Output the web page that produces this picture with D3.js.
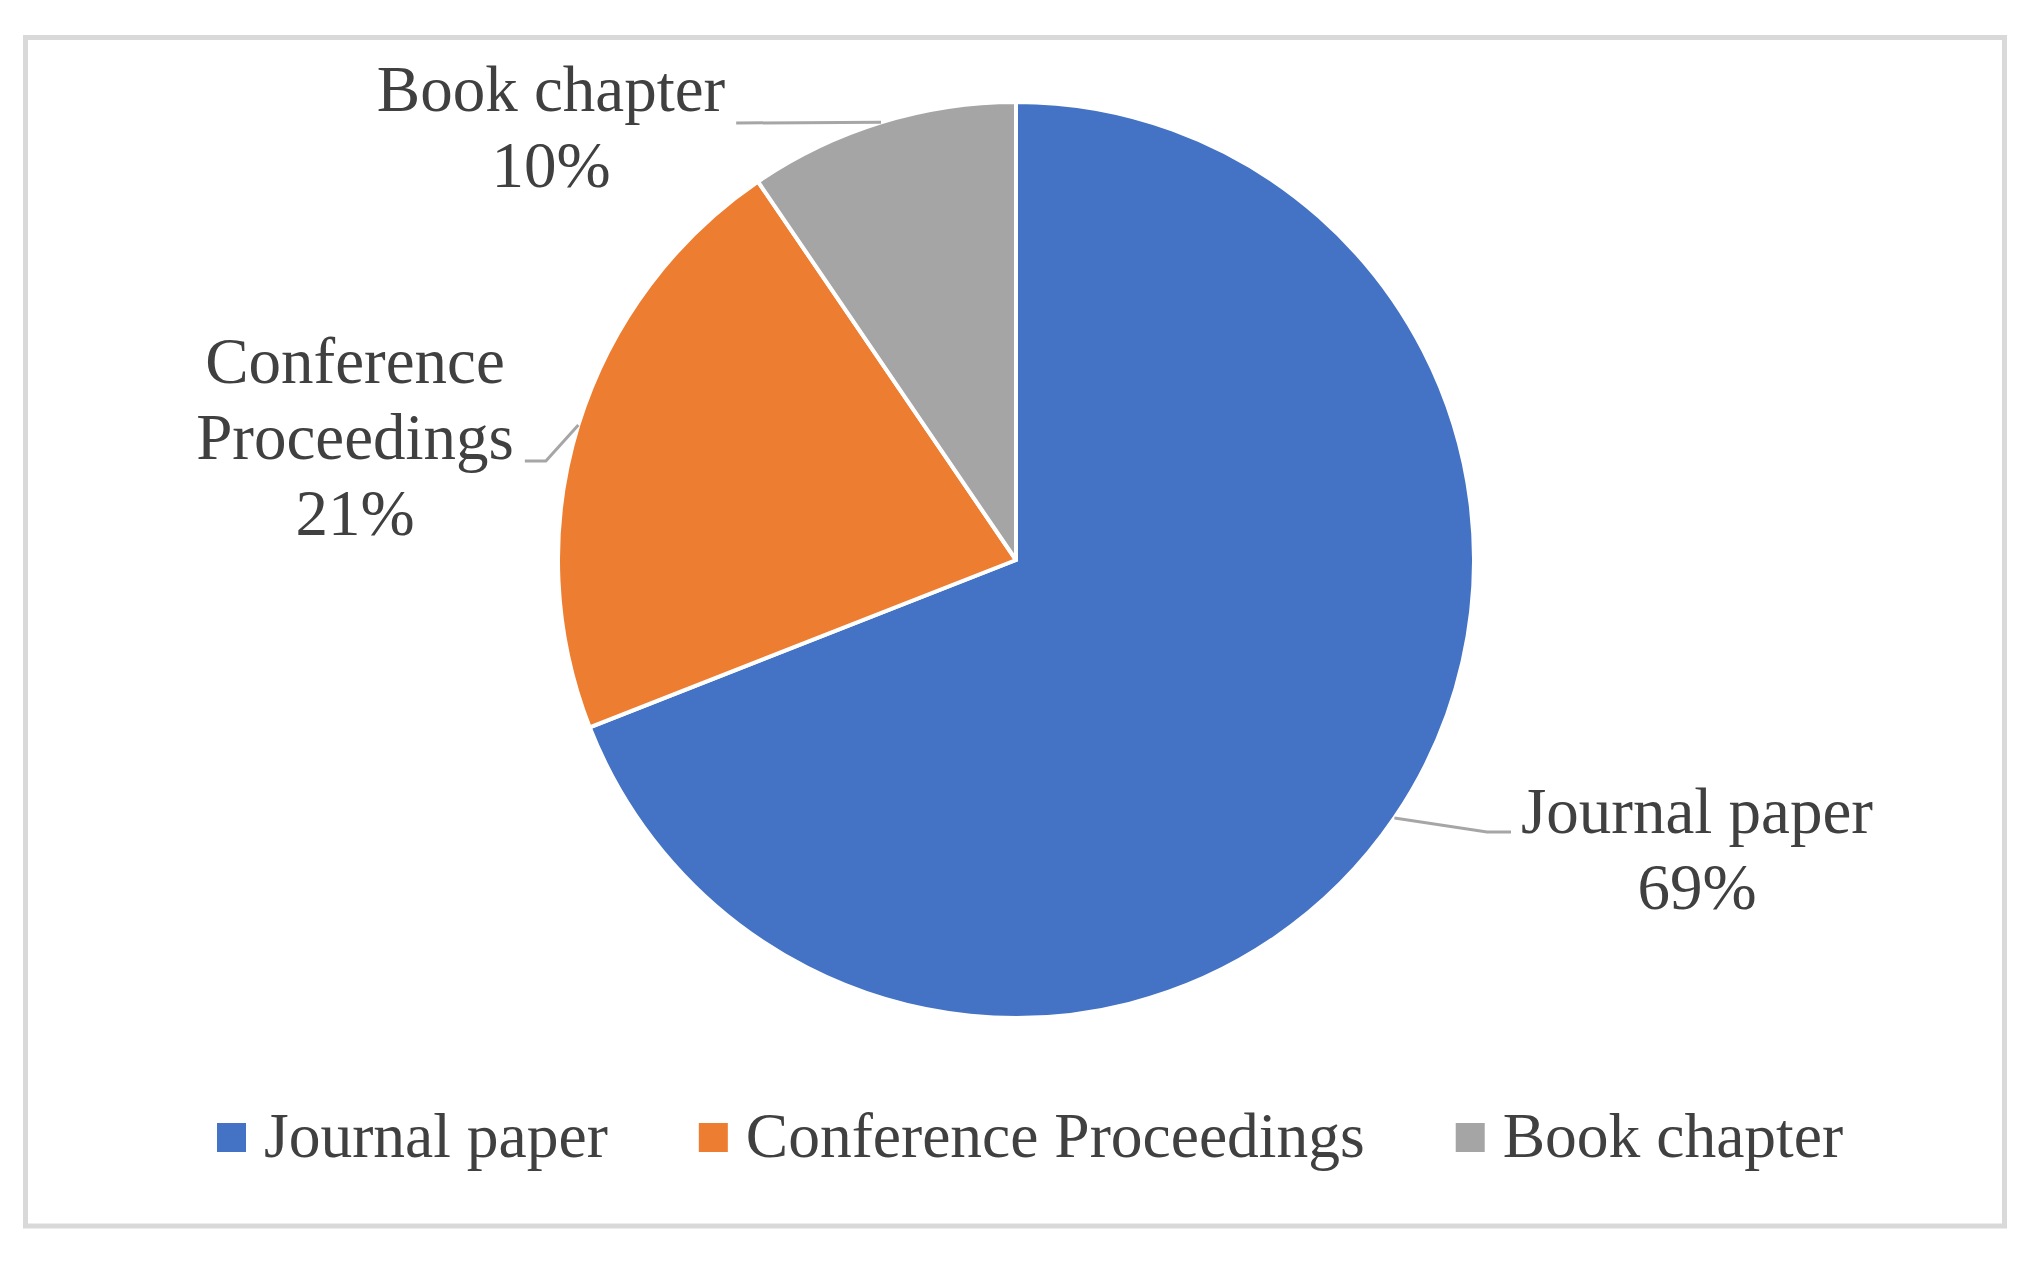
<!DOCTYPE html>
<html>
<head>
<meta charset="utf-8">
<script src="https://cdn.jsdelivr.net/npm/d3@7"></script>
<style>
  html, body { margin: 0; padding: 0; background: #fff; }
  svg { display: block; }
</style>
</head>
<body>
<div id="chart"></div>
<script>
// slice data (counts; labels show the share)
var categories = ["Journal paper", "Conference Proceedings", "Book chapter"];
var counts = [29, 9, 4];
var colors = ["#4472C4", "#ED7D31", "#A5A5A5"];
// data label lines, as printed on the chart
var labelLines = [["Journal paper"], ["Conference", "Proceedings"], ["Book chapter"]];
// legend text as printed
var legendLabels = ["Journal paper", "Conference Proceedings", "Book chapter"];

var W = 2042, H = 1261;
var cx = 1016, cy = 560, R = 458;
var font = "'Liberation Serif', 'Times New Roman', serif";
var fontSize = 65, legendSize = 63.5, lineH = 76;
var textColor = "#404040", leaderColor = "#A6A6A6";

// label anchors relative to the pie centre (text centre x, first baseline)
var labelPos = [
  { dx: 681, dy: 273, side: "right" },
  { dx: -661, dy: -177, side: "left" },
  { dx: -465, dy: -449, side: "left" }
];

var svg = d3.select("#chart").append("svg")
  .attr("width", W)
  .attr("height", H);

// chart frame
svg.append("rect")
  .attr("x", 25.5).attr("y", 37.5)
  .attr("width", 1979).attr("height", 1188.5)
  .attr("fill", "#fff")
  .attr("stroke", "#D9D9D9")
  .attr("stroke-width", 5);

var total = d3.sum(counts);
var pct = d3.format(".0%");
var data = categories.map(function (c, i) {
  return { name: c, value: counts[i], color: colors[i], lines: labelLines[i], pos: labelPos[i] };
});

var pie = d3.pie().sort(null).value(function (d) { return d.value; });
var arc = d3.arc().innerRadius(0).outerRadius(R);
var edge = d3.arc().innerRadius(R).outerRadius(R);
var arcs = pie(data);

var g = svg.append("g").attr("transform", "translate(" + cx + "," + cy + ")");

// slices
g.selectAll("path.slice")
  .data(arcs)
  .enter()
  .append("path")
  .attr("class", "slice")
  .attr("d", arc)
  .attr("fill", function (d) { return d.data.color; })
  .attr("stroke", "#fff")
  .attr("stroke-width", 4)
  .attr("stroke-linejoin", "round");

// data labels
var labels = g.selectAll("g.label")
  .data(arcs)
  .enter()
  .append("g")
  .attr("class", "label");

labels.each(function (d) {
  var el = d3.select(this);
  var p = d.data.pos;
  var lines = d.data.lines.concat([pct(d.data.value / total)]);
  var widths = [];
  lines.forEach(function (ln, i) {
    var t = el.append("text")
      .attr("x", p.dx)
      .attr("y", p.dy + i * lineH)
      .attr("text-anchor", "middle")
      .attr("font-family", font)
      .attr("font-size", fontSize)
      .attr("fill", textColor)
      .text(ln);
    widths.push(t.node().getComputedTextLength());
  });

  // leader line: slice edge -> elbow -> label
  var start = edge.centroid(d);
  var pts;
  if (p.side === "right") {
    var left = p.dx - widths[0] / 2;
    pts = [start, [left - 34, p.dy - 1], [left - 10, p.dy - 1]];
  } else if (lines.length > 2) {
    var right2 = p.dx + widths[1] / 2;
    pts = [start, [right2 + 32, p.dy + lineH + 2], [right2 + 11, p.dy + lineH + 2]];
  } else {
    var right1 = p.dx + widths[0] / 2;
    pts = [start, [right1 + 11, p.dy + 12]];
  }
  el.insert("path", "text")
    .attr("d", d3.line()(pts))
    .attr("fill", "none")
    .attr("stroke", leaderColor)
    .attr("stroke-width", 3);
});

// legend
var legend = svg.append("g").attr("class", "legend");
var lx = 217, sq = 29, sqY = 1123, textGap = 47, itemGap = 91, baseY = 1157;
legendLabels.forEach(function (name, i) {
  legend.append("rect")
    .attr("x", lx).attr("y", sqY)
    .attr("width", sq).attr("height", sq)
    .attr("fill", colors[i]);
  var t = legend.append("text")
    .attr("x", lx + textGap)
    .attr("y", baseY)
    .attr("font-family", font)
    .attr("font-size", legendSize)
    .attr("fill", textColor)
    .text(name);
  lx += textGap + t.node().getComputedTextLength() + itemGap;
});
</script>
</body>
</html>
